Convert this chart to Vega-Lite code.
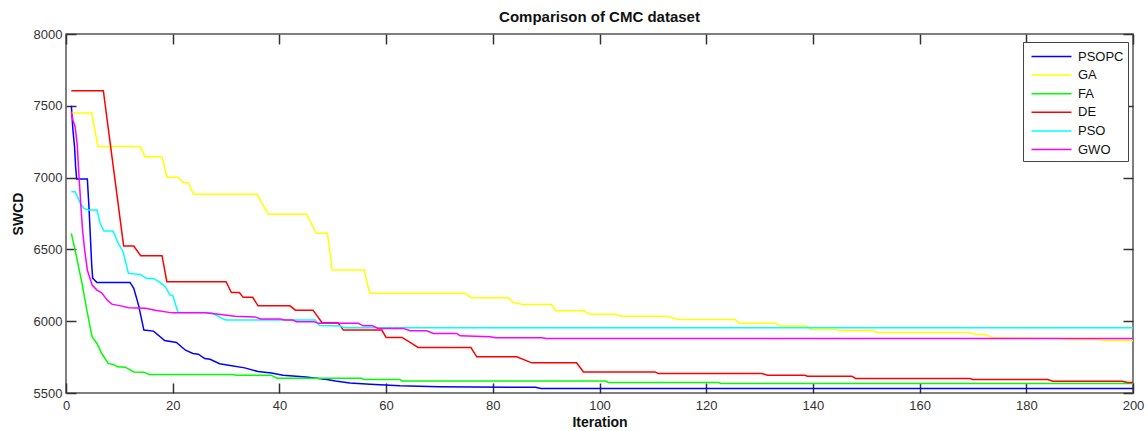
{
  "$schema": "https://vega.github.io/schema/vega-lite/v6.json",
  "width": 1067,
  "height": 359,
  "autosize": {"type": "none"},
  "padding": {"left": 66, "top": 34, "right": 15, "bottom": 38},
  "background": "white",
  "title": {"text": "Comparison of CMC dataset", "font": "Liberation Sans", "fontSize": 15, "fontWeight": "bold", "color": "#111111", "offset": 3, "anchor": "middle"},
  "config": {
    "view": {"stroke": "#555555", "strokeWidth": 1.5},
    "axis": {
      "grid": false,
      "domain": false,
      "tickSize": 10,
      "tickColor": "#333333",
      "tickWidth": 1.5,
      "labelFont": "Liberation Sans",
      "labelFontSize": 13,
      "labelColor": "#333333",
      "titleFont": "Liberation Sans",
      "titleFontSize": 14,
      "titleFontWeight": "bold",
      "titleColor": "#111111"
    }
  },
  "datasets": {
    "curves": [
      {"alg": "PSOPC", "iter": 1, "swcd": 7500},
      {"alg": "PSOPC", "iter": 1.3, "swcd": 7330},
      {"alg": "PSOPC", "iter": 1.6, "swcd": 7216},
      {"alg": "PSOPC", "iter": 1.8, "swcd": 7077},
      {"alg": "PSOPC", "iter": 2, "swcd": 6991},
      {"alg": "PSOPC", "iter": 4, "swcd": 6991},
      {"alg": "PSOPC", "iter": 4.3, "swcd": 6798},
      {"alg": "PSOPC", "iter": 4.6, "swcd": 6566},
      {"alg": "PSOPC", "iter": 4.8, "swcd": 6403},
      {"alg": "PSOPC", "iter": 5, "swcd": 6300},
      {"alg": "PSOPC", "iter": 5.8, "swcd": 6270},
      {"alg": "PSOPC", "iter": 12, "swcd": 6270},
      {"alg": "PSOPC", "iter": 12.7, "swcd": 6229},
      {"alg": "PSOPC", "iter": 13.6, "swcd": 6112},
      {"alg": "PSOPC", "iter": 14.6, "swcd": 5938},
      {"alg": "PSOPC", "iter": 16.4, "swcd": 5931},
      {"alg": "PSOPC", "iter": 18.5, "swcd": 5865},
      {"alg": "PSOPC", "iter": 20.7, "swcd": 5852},
      {"alg": "PSOPC", "iter": 22.4, "swcd": 5798},
      {"alg": "PSOPC", "iter": 23.8, "swcd": 5775},
      {"alg": "PSOPC", "iter": 24.8, "swcd": 5770},
      {"alg": "PSOPC", "iter": 26, "swcd": 5740},
      {"alg": "PSOPC", "iter": 27, "swcd": 5735},
      {"alg": "PSOPC", "iter": 28.8, "swcd": 5704},
      {"alg": "PSOPC", "iter": 30.5, "swcd": 5694},
      {"alg": "PSOPC", "iter": 33.5, "swcd": 5675},
      {"alg": "PSOPC", "iter": 36, "swcd": 5650},
      {"alg": "PSOPC", "iter": 38.5, "swcd": 5640},
      {"alg": "PSOPC", "iter": 40.7, "swcd": 5624},
      {"alg": "PSOPC", "iter": 45, "swcd": 5612},
      {"alg": "PSOPC", "iter": 48.9, "swcd": 5594},
      {"alg": "PSOPC", "iter": 50.5, "swcd": 5584},
      {"alg": "PSOPC", "iter": 53.2, "swcd": 5570},
      {"alg": "PSOPC", "iter": 57, "swcd": 5561},
      {"alg": "PSOPC", "iter": 62.6, "swcd": 5550},
      {"alg": "PSOPC", "iter": 70, "swcd": 5543},
      {"alg": "PSOPC", "iter": 88, "swcd": 5540},
      {"alg": "PSOPC", "iter": 89, "swcd": 5531},
      {"alg": "PSOPC", "iter": 200, "swcd": 5531},

      {"alg": "GA", "iter": 1, "swcd": 7449},
      {"alg": "GA", "iter": 4.8, "swcd": 7449},
      {"alg": "GA", "iter": 6, "swcd": 7216},
      {"alg": "GA", "iter": 13.9, "swcd": 7216},
      {"alg": "GA", "iter": 14.8, "swcd": 7146},
      {"alg": "GA", "iter": 18, "swcd": 7146},
      {"alg": "GA", "iter": 18.9, "swcd": 7003},
      {"alg": "GA", "iter": 21, "swcd": 7003},
      {"alg": "GA", "iter": 22, "swcd": 6965},
      {"alg": "GA", "iter": 22.9, "swcd": 6965},
      {"alg": "GA", "iter": 23.9, "swcd": 6884},
      {"alg": "GA", "iter": 35.8, "swcd": 6884},
      {"alg": "GA", "iter": 37.9, "swcd": 6745},
      {"alg": "GA", "iter": 45.1, "swcd": 6745},
      {"alg": "GA", "iter": 46.9, "swcd": 6612},
      {"alg": "GA", "iter": 49, "swcd": 6612},
      {"alg": "GA", "iter": 49.9, "swcd": 6356},
      {"alg": "GA", "iter": 55.9, "swcd": 6356},
      {"alg": "GA", "iter": 56.9, "swcd": 6194},
      {"alg": "GA", "iter": 74.8, "swcd": 6194},
      {"alg": "GA", "iter": 76, "swcd": 6163},
      {"alg": "GA", "iter": 82.9, "swcd": 6163},
      {"alg": "GA", "iter": 83.8, "swcd": 6131},
      {"alg": "GA", "iter": 85.7, "swcd": 6117},
      {"alg": "GA", "iter": 91, "swcd": 6117},
      {"alg": "GA", "iter": 91.8, "swcd": 6073},
      {"alg": "GA", "iter": 97, "swcd": 6073},
      {"alg": "GA", "iter": 98.2, "swcd": 6049},
      {"alg": "GA", "iter": 102.9, "swcd": 6049},
      {"alg": "GA", "iter": 104, "swcd": 6035},
      {"alg": "GA", "iter": 112.6, "swcd": 6035},
      {"alg": "GA", "iter": 113.5, "swcd": 6026},
      {"alg": "GA", "iter": 114.8, "swcd": 6012},
      {"alg": "GA", "iter": 125.4, "swcd": 6012},
      {"alg": "GA", "iter": 126.2, "swcd": 5985},
      {"alg": "GA", "iter": 132.9, "swcd": 5985},
      {"alg": "GA", "iter": 134.1, "swcd": 5966},
      {"alg": "GA", "iter": 138.8, "swcd": 5966},
      {"alg": "GA", "iter": 139.8, "swcd": 5943},
      {"alg": "GA", "iter": 144.5, "swcd": 5943},
      {"alg": "GA", "iter": 145, "swcd": 5933},
      {"alg": "GA", "iter": 151.3, "swcd": 5933},
      {"alg": "GA", "iter": 152, "swcd": 5922},
      {"alg": "GA", "iter": 169.4, "swcd": 5922},
      {"alg": "GA", "iter": 170.4, "swcd": 5908},
      {"alg": "GA", "iter": 172.3, "swcd": 5908},
      {"alg": "GA", "iter": 173.8, "swcd": 5884},
      {"alg": "GA", "iter": 186.6, "swcd": 5880},
      {"alg": "GA", "iter": 187, "swcd": 5873},
      {"alg": "GA", "iter": 193.8, "swcd": 5873},
      {"alg": "GA", "iter": 194.5, "swcd": 5865},
      {"alg": "GA", "iter": 200, "swcd": 5865},

      {"alg": "FA", "iter": 1, "swcd": 6612},
      {"alg": "FA", "iter": 1.7, "swcd": 6496},
      {"alg": "FA", "iter": 3, "swcd": 6263},
      {"alg": "FA", "iter": 3.9, "swcd": 6077},
      {"alg": "FA", "iter": 4.9, "swcd": 5891},
      {"alg": "FA", "iter": 5.8, "swcd": 5845},
      {"alg": "FA", "iter": 6.7, "swcd": 5775},
      {"alg": "FA", "iter": 7.9, "swcd": 5706},
      {"alg": "FA", "iter": 8.9, "swcd": 5699},
      {"alg": "FA", "iter": 9.6, "swcd": 5682},
      {"alg": "FA", "iter": 11.1, "swcd": 5680},
      {"alg": "FA", "iter": 12.7, "swcd": 5647},
      {"alg": "FA", "iter": 14.6, "swcd": 5645},
      {"alg": "FA", "iter": 15.6, "swcd": 5629},
      {"alg": "FA", "iter": 31.1, "swcd": 5629},
      {"alg": "FA", "iter": 32, "swcd": 5624},
      {"alg": "FA", "iter": 38.4, "swcd": 5624},
      {"alg": "FA", "iter": 39.6, "swcd": 5603},
      {"alg": "FA", "iter": 55.4, "swcd": 5603},
      {"alg": "FA", "iter": 55.8, "swcd": 5594},
      {"alg": "FA", "iter": 62.6, "swcd": 5594},
      {"alg": "FA", "iter": 63, "swcd": 5584},
      {"alg": "FA", "iter": 101, "swcd": 5584},
      {"alg": "FA", "iter": 101.7, "swcd": 5573},
      {"alg": "FA", "iter": 122.3, "swcd": 5573},
      {"alg": "FA", "iter": 122.8, "swcd": 5566},
      {"alg": "FA", "iter": 200, "swcd": 5566},

      {"alg": "DE", "iter": 1, "swcd": 7605},
      {"alg": "DE", "iter": 7, "swcd": 7605},
      {"alg": "DE", "iter": 10.8, "swcd": 6524},
      {"alg": "DE", "iter": 12.7, "swcd": 6524},
      {"alg": "DE", "iter": 14, "swcd": 6456},
      {"alg": "DE", "iter": 18, "swcd": 6456},
      {"alg": "DE", "iter": 18.9, "swcd": 6275},
      {"alg": "DE", "iter": 30, "swcd": 6275},
      {"alg": "DE", "iter": 31, "swcd": 6200},
      {"alg": "DE", "iter": 32.5, "swcd": 6200},
      {"alg": "DE", "iter": 33.2, "swcd": 6166},
      {"alg": "DE", "iter": 35, "swcd": 6166},
      {"alg": "DE", "iter": 36, "swcd": 6107},
      {"alg": "DE", "iter": 42, "swcd": 6107},
      {"alg": "DE", "iter": 43, "swcd": 6077},
      {"alg": "DE", "iter": 46.3, "swcd": 6077},
      {"alg": "DE", "iter": 48, "swcd": 5989},
      {"alg": "DE", "iter": 51, "swcd": 5989},
      {"alg": "DE", "iter": 52, "swcd": 5938},
      {"alg": "DE", "iter": 59.2, "swcd": 5938},
      {"alg": "DE", "iter": 60, "swcd": 5887},
      {"alg": "DE", "iter": 63, "swcd": 5887},
      {"alg": "DE", "iter": 66, "swcd": 5817},
      {"alg": "DE", "iter": 75.9, "swcd": 5817},
      {"alg": "DE", "iter": 77, "swcd": 5752},
      {"alg": "DE", "iter": 84.5, "swcd": 5752},
      {"alg": "DE", "iter": 87.3, "swcd": 5710},
      {"alg": "DE", "iter": 95.7, "swcd": 5710},
      {"alg": "DE", "iter": 97, "swcd": 5647},
      {"alg": "DE", "iter": 110.4, "swcd": 5647},
      {"alg": "DE", "iter": 111, "swcd": 5636},
      {"alg": "DE", "iter": 130.4, "swcd": 5636},
      {"alg": "DE", "iter": 131.5, "swcd": 5624},
      {"alg": "DE", "iter": 138.5, "swcd": 5624},
      {"alg": "DE", "iter": 139, "swcd": 5617},
      {"alg": "DE", "iter": 147.3, "swcd": 5617},
      {"alg": "DE", "iter": 148, "swcd": 5601},
      {"alg": "DE", "iter": 169.4, "swcd": 5601},
      {"alg": "DE", "iter": 170, "swcd": 5594},
      {"alg": "DE", "iter": 184, "swcd": 5594},
      {"alg": "DE", "iter": 185, "swcd": 5582},
      {"alg": "DE", "iter": 198, "swcd": 5582},
      {"alg": "DE", "iter": 199, "swcd": 5573},
      {"alg": "DE", "iter": 200, "swcd": 5573},

      {"alg": "PSO", "iter": 1, "swcd": 6902},
      {"alg": "PSO", "iter": 1.7, "swcd": 6902},
      {"alg": "PSO", "iter": 2.7, "swcd": 6821},
      {"alg": "PSO", "iter": 3.3, "swcd": 6787},
      {"alg": "PSO", "iter": 4.2, "swcd": 6775},
      {"alg": "PSO", "iter": 5.8, "swcd": 6775},
      {"alg": "PSO", "iter": 6.4, "swcd": 6682},
      {"alg": "PSO", "iter": 7.1, "swcd": 6628},
      {"alg": "PSO", "iter": 8.8, "swcd": 6628},
      {"alg": "PSO", "iter": 9.8, "swcd": 6542},
      {"alg": "PSO", "iter": 10.7, "swcd": 6484},
      {"alg": "PSO", "iter": 11.7, "swcd": 6333},
      {"alg": "PSO", "iter": 13.9, "swcd": 6326},
      {"alg": "PSO", "iter": 15.1, "swcd": 6298},
      {"alg": "PSO", "iter": 16.4, "swcd": 6298},
      {"alg": "PSO", "iter": 17.6, "swcd": 6270},
      {"alg": "PSO", "iter": 18.6, "swcd": 6240},
      {"alg": "PSO", "iter": 19.5, "swcd": 6182},
      {"alg": "PSO", "iter": 20, "swcd": 6180},
      {"alg": "PSO", "iter": 21, "swcd": 6061},
      {"alg": "PSO", "iter": 26.4, "swcd": 6061},
      {"alg": "PSO", "iter": 27.5, "swcd": 6055},
      {"alg": "PSO", "iter": 29.5, "swcd": 6015},
      {"alg": "PSO", "iter": 30, "swcd": 6008},
      {"alg": "PSO", "iter": 46.7, "swcd": 6008},
      {"alg": "PSO", "iter": 47.5, "swcd": 5970},
      {"alg": "PSO", "iter": 51.4, "swcd": 5966},
      {"alg": "PSO", "iter": 52.3, "swcd": 5955},
      {"alg": "PSO", "iter": 200, "swcd": 5955},

      {"alg": "GWO", "iter": 1, "swcd": 7460},
      {"alg": "GWO", "iter": 1.3, "swcd": 7400},
      {"alg": "GWO", "iter": 1.7, "swcd": 7356},
      {"alg": "GWO", "iter": 2.1, "swcd": 7230},
      {"alg": "GWO", "iter": 2.4, "swcd": 7030},
      {"alg": "GWO", "iter": 2.8, "swcd": 6798},
      {"alg": "GWO", "iter": 3.1, "swcd": 6635},
      {"alg": "GWO", "iter": 3.5, "swcd": 6496},
      {"alg": "GWO", "iter": 4, "swcd": 6356},
      {"alg": "GWO", "iter": 4.9, "swcd": 6252},
      {"alg": "GWO", "iter": 5.8, "swcd": 6217},
      {"alg": "GWO", "iter": 6.7, "swcd": 6198},
      {"alg": "GWO", "iter": 7.7, "swcd": 6147},
      {"alg": "GWO", "iter": 8.6, "swcd": 6119},
      {"alg": "GWO", "iter": 10.5, "swcd": 6105},
      {"alg": "GWO", "iter": 11.7, "swcd": 6093},
      {"alg": "GWO", "iter": 14.9, "swcd": 6090},
      {"alg": "GWO", "iter": 16.7, "swcd": 6077},
      {"alg": "GWO", "iter": 19.9, "swcd": 6058},
      {"alg": "GWO", "iter": 26.1, "swcd": 6058},
      {"alg": "GWO", "iter": 28.6, "swcd": 6049},
      {"alg": "GWO", "iter": 31.7, "swcd": 6035},
      {"alg": "GWO", "iter": 35.4, "swcd": 6030},
      {"alg": "GWO", "iter": 36.5, "swcd": 6015},
      {"alg": "GWO", "iter": 40.1, "swcd": 6015},
      {"alg": "GWO", "iter": 41, "swcd": 6008},
      {"alg": "GWO", "iter": 42.5, "swcd": 6008},
      {"alg": "GWO", "iter": 43.2, "swcd": 5996},
      {"alg": "GWO", "iter": 46.5, "swcd": 5996},
      {"alg": "GWO", "iter": 47.3, "swcd": 5985},
      {"alg": "GWO", "iter": 54.8, "swcd": 5985},
      {"alg": "GWO", "iter": 55.7, "swcd": 5968},
      {"alg": "GWO", "iter": 57.5, "swcd": 5968},
      {"alg": "GWO", "iter": 58.5, "swcd": 5950},
      {"alg": "GWO", "iter": 63.2, "swcd": 5950},
      {"alg": "GWO", "iter": 64.5, "swcd": 5933},
      {"alg": "GWO", "iter": 67.6, "swcd": 5933},
      {"alg": "GWO", "iter": 68.9, "swcd": 5915},
      {"alg": "GWO", "iter": 73.2, "swcd": 5915},
      {"alg": "GWO", "iter": 73.9, "swcd": 5898},
      {"alg": "GWO", "iter": 79.5, "swcd": 5891},
      {"alg": "GWO", "iter": 80.5, "swcd": 5884},
      {"alg": "GWO", "iter": 89.2, "swcd": 5884},
      {"alg": "GWO", "iter": 90, "swcd": 5880},
      {"alg": "GWO", "iter": 200, "swcd": 5880}
    ]
  },
  "layer": [
    {
      "data": {"name": "curves"},
      "mark": {"type": "line", "strokeWidth": 1.5, "clip": true},
      "encoding": {
        "x": {
          "field": "iter", "type": "quantitative",
          "scale": {"domain": [0, 200], "nice": false, "zero": false},
          "axis": {"orient": "bottom", "values": [0, 20, 40, 60, 80, 100, 120, 140, 160, 180, 200], "title": "Iteration", "ticks": false, "labelPadding": 6, "titlePadding": 3, "labelFlush": false}
        },
        "y": {
          "field": "swcd", "type": "quantitative",
          "scale": {"domain": [5500, 8000], "nice": false, "zero": false},
          "axis": {"orient": "left", "values": [5500, 6000, 6500, 7000, 7500, 8000], "format": "d", "title": "SWCD", "ticks": false, "labelPadding": 4, "titlePadding": 8}
        },
        "color": {
          "field": "alg", "type": "nominal",
          "scale": {"domain": ["PSOPC", "GA", "FA", "DE", "PSO", "GWO"], "range": ["#0000ff", "#ffff00", "#00ff00", "#ff0000", "#00ffff", "#ff00ff"]},
          "legend": {
            "orient": "none", "legendX": 957, "legendY": 8,
            "title": null,
            "symbolType": "M-2.105,0H2.105", "symbolSize": 361, "symbolStrokeWidth": 1.5,
            "symbolOffset": 14, "labelOffset": 16,
            "labelFont": "Liberation Sans", "labelFontSize": 13, "labelColor": "#111111",
            "rowPadding": 0.6,
            "padding": 4, "strokeColor": "#444444", "fillColor": "white"
          }
        }
      }
    },
    {
      "data": {"name": "curves"},
      "mark": {"type": "point", "opacity": 0},
      "encoding": {
        "x": {
          "field": "iter", "type": "quantitative",
          "axis": {"orient": "top", "offset": -359, "values": [0, 20, 40, 60, 80, 100, 120, 140, 160, 180, 200], "labels": false, "title": null}
        },
        "y": {
          "field": "swcd", "type": "quantitative",
          "axis": {"orient": "right", "offset": -1067, "values": [5500, 6000, 6500, 7000, 7500, 8000], "labels": false, "title": null}
        }
      }
    },
    {
      "data": {"name": "curves"},
      "mark": {"type": "point", "opacity": 0},
      "encoding": {
        "x": {
          "field": "iter", "type": "quantitative",
          "axis": {"orient": "bottom", "offset": -359, "values": [0, 20, 40, 60, 80, 100, 120, 140, 160, 180, 200], "labels": false, "title": null}
        },
        "y": {
          "field": "swcd", "type": "quantitative",
          "axis": {"orient": "left", "offset": -1067, "values": [5500, 6000, 6500, 7000, 7500, 8000], "labels": false, "title": null}
        }
      }
    }
  ],
  "resolve": {"axis": {"x": "independent", "y": "independent"}}
}
